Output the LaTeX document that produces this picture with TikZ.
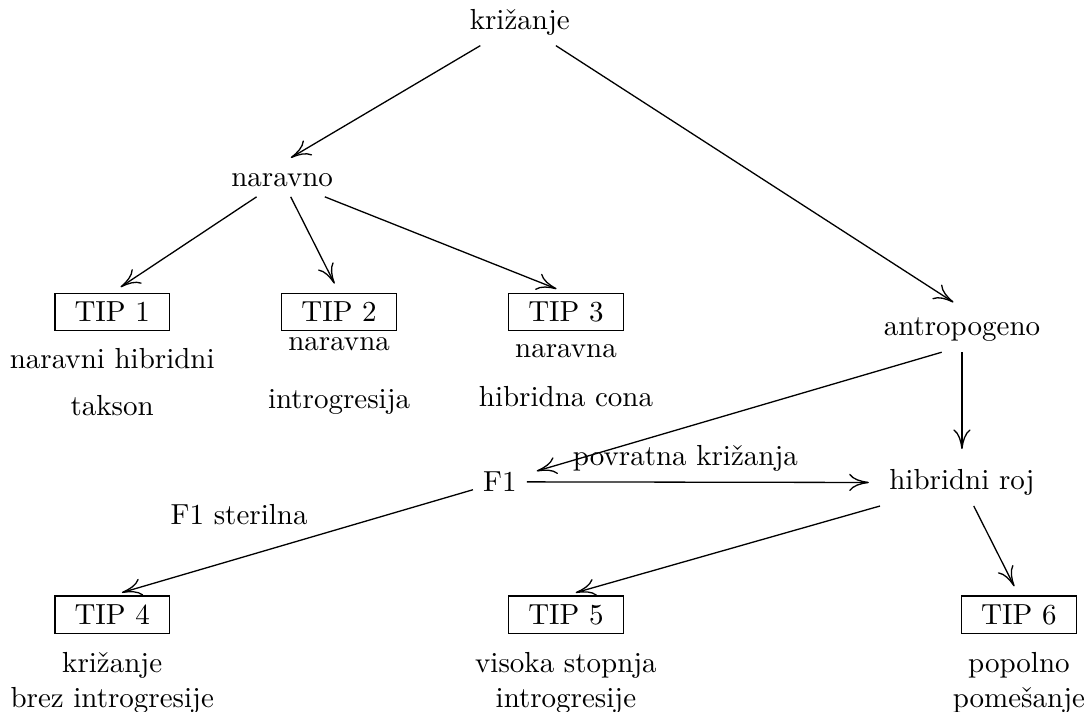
\documentclass[tikz,border=0pt]{standalone}
\usepackage{tikz}
\usetikzlibrary{arrows.meta}

\begin{document}
\begin{tikzpicture}[>={To[length=2.4mm,width=2.1mm]}, line width=0.45pt,
    tipbox/.style={draw, minimum width=1.39cm, minimum height=0.45cm, inner sep=1pt},
    opis/.style={align=center, anchor=north},
    puscica/.style={->, shorten >=3.5pt}]

            \useasboundingbox (0,0) rectangle (13.2,-8.62);

            \node (K) at (6.30,-0.27) {križanje};
            \node (N) at (3.42,-2.18) {naravno};
            \node (A) at (11.66,-4.00) {antropogeno};
            \node (F) at (6.06,-5.84) {F1};
            \node (H) at (11.66,-5.85) {hibridni roj};

            \node[tipbox] (T1) at (1.36,-3.78) {TIP 1};
            \node[tipbox] (T2) at (4.11,-3.78) {TIP 2};
            \node[tipbox] (T3) at (6.86,-3.78) {TIP 3};
            \node[tipbox] (T4) at (1.36,-7.45) {TIP 4};
            \node[tipbox] (T5) at (6.86,-7.45) {TIP 5};
            \node[tipbox] (T6) at (12.35,-7.45) {TIP 6};

            \node[opis] (D1) at (1.36,-4.10) {naravni hibridni\\[4pt] takson};
            \node[opis] (D2) at (4.11,-3.96) {naravna\\[8pt] introgresija};
            \node[opis] (D3) at (6.86,-4.05) {naravna\\[5pt] hibridna cona};
            \node[opis] (D4) at (1.36,-7.78) {križanje\\ brez introgresije};
            \node[opis] (D5) at (6.86,-7.78) {visoka stopnja\\ introgresije};
            \node[opis] (D6) at (12.35,-7.78) {popolno\\ pomešanje};

            \draw[puscica] (K) -- (N.north);
            \draw[puscica] (K) -- (A.north);
            \draw[puscica] (N) -- (T1.north);
            \draw[puscica] (N) -- (T2.north);
            \draw[puscica] (N) -- (T3.north);
            \draw[puscica] ([xshift=-7pt]A.south) -- (F);
            \draw[puscica] (A) -- (H);
            \draw[puscica] (F) -- (H) node[pos=0.45, above] {povratna križanja};
            \draw[puscica] (F) -- (T4.north) node[pos=0.43, above left] {F1 sterilna};
            \draw[puscica] (H) -- (T5.north);
            \draw[puscica] (H) -- (T6.north);

        \end{tikzpicture}
\end{document}
